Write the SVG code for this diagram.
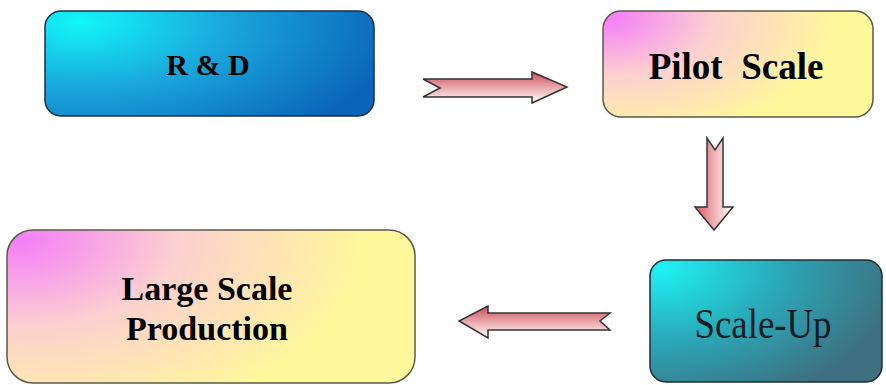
<svg xmlns="http://www.w3.org/2000/svg" width="886" height="385" viewBox="0 0 886 385">
<defs>
<radialGradient id="gBlue" gradientUnits="userSpaceOnUse" cx="80" cy="22" r="320" gradientTransform="translate(80 22) scale(1 0.45) translate(-80 -22)">
<stop offset="0" stop-color="#12f6f8"/>
<stop offset="0.45" stop-color="#1aa8dc"/>
<stop offset="1" stop-color="#0a64ba"/>
</radialGradient>
<radialGradient id="gTeal" gradientUnits="userSpaceOnUse" cx="660" cy="268" r="240" gradientTransform="translate(660 268) scale(1 0.6) translate(-660 -268)">
<stop offset="0" stop-color="#1ef2f4"/>
<stop offset="0.5" stop-color="#2aa8b8"/>
<stop offset="1" stop-color="#3e7080"/>
</radialGradient>
<radialGradient id="gPink1" gradientUnits="userSpaceOnUse" cx="610" cy="18" r="230" gradientTransform="translate(610 18) scale(1 0.55) translate(-610 -18)">
<stop offset="0" stop-color="#f47ef8"/>
<stop offset="0.45" stop-color="#fcd0d0"/>
<stop offset="1" stop-color="#fff89a"/>
</radialGradient>
<radialGradient id="gPink2" gradientUnits="userSpaceOnUse" cx="20" cy="240" r="350" gradientTransform="translate(20 240) scale(1 0.55) translate(-20 -240)">
<stop offset="0" stop-color="#f47ef8"/>
<stop offset="0.45" stop-color="#fcd0d0"/>
<stop offset="1" stop-color="#fff89a"/>
</radialGradient>
<linearGradient id="gArrH" x1="0" y1="0" x2="0" y2="1">
<stop offset="0" stop-color="#c8505c"/>
<stop offset="0.5" stop-color="#eaa8ac"/>
<stop offset="1" stop-color="#ffffff"/>
</linearGradient>
<linearGradient id="gArrV" x1="0" y1="0" x2="1" y2="0">
<stop offset="0" stop-color="#d25a66"/>
<stop offset="0.5" stop-color="#eeb0b4"/>
<stop offset="1" stop-color="#ffffff"/>
</linearGradient>
</defs>
<style>
.box { stroke-width: 1.5; }
.arrow { stroke: #333333; stroke-width: 1.5; stroke-linejoin: miter; }
.tb { font-weight: bold; text-anchor: middle; fill: #000000; }
.tr { text-anchor: middle; fill: #0f1e24; }
</style>

<g id="connectors">
<path class="arrow" fill="url(#gArrH)" d="M423 79 L532 79 L532 72 L567 87 L532 103 L532 97 L423 97 L440 88 Z"/>
<path class="arrow" fill="url(#gArrV)" d="M707 138 L715 150 L723 138 L723 207 L733 207 L714 230 L695 207 L707 207 Z"/>
<path class="arrow" fill="url(#gArrH)" d="M610 313 L488 313 L488 306 L459 321 L488 338 L488 330 L610 330 L600 321 Z"/>
</g>

<g id="node-rd">
<rect class="box" x="45" y="11" width="329" height="105" rx="16" fill="url(#gBlue)" stroke="#1a2c44"/>
<text class="tb" x="208" y="75" font-size="30" font-family="'Liberation Serif', 'Times New Roman', 'DejaVu Serif', serif" fill="#0c1a30" xml:space="preserve">R &amp; D</text>
</g>

<g id="node-pilot">
<rect class="box" x="603" y="11" width="270" height="106" rx="18" fill="url(#gPink1)" stroke="#5a5a48"/>
<text class="tb" x="736" y="79" font-size="37" font-family="'Liberation Serif', 'Times New Roman', 'DejaVu Serif', serif" xml:space="preserve">Pilot  Scale</text>
</g>

<g id="node-scaleup">
<rect class="box" x="650" y="260" width="232" height="122" rx="16" fill="url(#gTeal)" stroke="#1c2c34"/>
<text class="tr" x="763" y="338" font-size="42" font-family="'Liberation Serif', 'Times New Roman', 'DejaVu Serif', serif" textLength="137" lengthAdjust="spacingAndGlyphs">Scale-Up</text>
</g>

<g id="node-large">
<rect class="box" x="7" y="230" width="408" height="153" rx="26" fill="url(#gPink2)" stroke="#5a5a48"/>
<text class="tb" x="207" y="300" font-size="34" font-family="'Liberation Serif', 'Times New Roman', 'DejaVu Serif', serif">Large Scale</text>
<text class="tb" x="207" y="340" font-size="34" font-family="'Liberation Serif', 'Times New Roman', 'DejaVu Serif', serif">Production</text>
</g>
</svg>
